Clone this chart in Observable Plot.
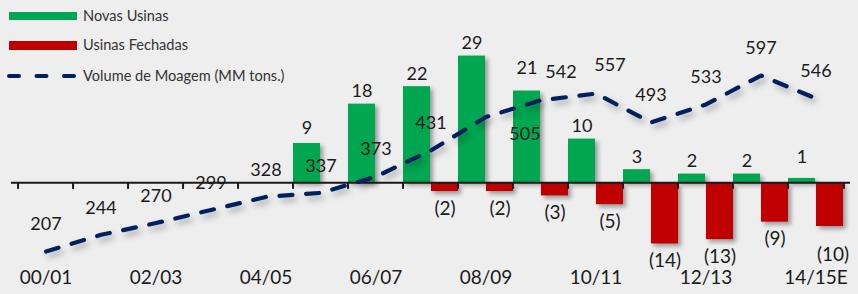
<!DOCTYPE html>
<html>
<head>
<meta charset="utf-8">
<script src="https://cdn.jsdelivr.net/npm/d3@7"></script>
<script src="https://cdn.jsdelivr.net/npm/@observablehq/plot@0.6"></script>
<style>
  html, body { margin: 0; padding: 0; background: #eeeeee; }
  #wrap { position: relative; width: 858px; height: 294px; background: #eeeeee; font-family: Lato, "Open Sans", sans-serif; overflow: hidden; }
  #legend { position: absolute; left: 0; top: 0; width: 320px; height: 90px; }
  #legend .txt { position: absolute; left: 83px; font-size: 14.6px; color: #333; line-height: 1; transform: translateY(-50%); white-space: nowrap; }
  #legend .sw { position: absolute; left: 9px; width: 68px; }
</style>
</head>
<body>
<div id="wrap">
  <div id="chart"></div>
  <div id="legend"></div>
</div>
<script>
// ---- data ----
const seasons = ["00/01","01/02","02/03","03/04","04/05","05/06","06/07","07/08","08/09","09/10","10/11","11/12","12/13","13/14","14/15E"];
const novasUsinas    = [null, null, null, null, null, 9, 18, 22, 29, 21, 10, 3, 2, 2, 1];
const usinasFechadas = [null, null, null, null, null, null, null, 2, 2, 3, 5, 14, 13, 9, 10];
const volumeMoagem   = [207, 244, 270, 299, 328, 337, 373, 431, 505, 542, 557, 493, 533, 597, 546];
const tickLabels = ["00/01","02/03","04/05","06/07","08/09","10/11","12/13","14/15E"];
const seriesNames = ["Novas Usinas", "Usinas Fechadas", "Volume de Moagem (MM tons.)"];

// ---- styling ----
const GREEN = "#00A650", RED = "#C00000", NAVY = "#002060", INK = "#1b1b1b";
const W = 858, H = 294, ML = 11, MR = 8, MB = 24;
const bw = (W - ML - MR) / seasons.length;

const rows = seasons.map((s, i) => ({
  season: s, novas: novasUsinas[i], fechadas: usinasFechadas[i], volume: volumeMoagem[i]
}));

// secondary axis for the volume line, expressed in the bar axis units
const vol2u = d3.scaleLinear().domain([207, 597]).range([-15.72, 24.55]);

// label nudges (pixels)
const greenNudge = {"05/06": -15, "09/10": -22.5, "14/15E": -21};
const redNudge = {"14/15E": 28};
const volNudge = {"08/09": [39, 17], "09/10": [20, -28], "10/11": [14, -28]};

const green = rows.filter(d => d.novas != null);
const red = rows.filter(d => d.fechadas != null);

const fontFam = "Lato, 'Open Sans', sans-serif";

const chart = Plot.plot({
  width: W, height: H,
  marginLeft: ML, marginRight: MR, marginTop: 0, marginBottom: MB,
  style: { background: "transparent", fontFamily: fontFam, color: INK, overflow: "visible" },
  x: { type: "band", domain: seasons, paddingInner: 0, paddingOuter: 0, axis: null },
  y: { domain: [-(H - MB - 182.3) / 4.37, 182.3 / 4.37], axis: null },
  marks: [
    Plot.barY(green, { x: "season", y: "novas", fill: GREEN, insetRight: bw / 2, insetLeft: 0 }),
    Plot.barY(red, { x: "season", y: d => -d.fechadas, fill: RED, insetLeft: bw / 2, insetRight: 0 }),
    Plot.ruleY([0], { stroke: "#1a1a1a", strokeWidth: 2 }),
    Plot.ruleX(seasons, { x: d => d, dx: -bw / 2, y1: 0, y2: -1.5, stroke: "#1a1a1a", strokeWidth: 2 }),
    Plot.ruleX([seasons[seasons.length - 1]], { x: d => d, dx: bw / 2, y1: 0, y2: -1.5, stroke: "#1a1a1a", strokeWidth: 2 }),
    Plot.line(rows, { x: "season", y: d => vol2u(d.volume), stroke: NAVY, strokeWidth: 4.2, strokeDasharray: "13 13.7", strokeLinecap: "round", strokeLinejoin: "round" }),
    // volume labels
    Plot.text(rows.filter(d => !volNudge[d.season]), { x: "season", y: d => vol2u(d.volume), text: d => String(d.volume), dy: -27, fontSize: 18, fill: INK }),
    ...rows.filter(d => volNudge[d.season]).map(d =>
      Plot.text([d], { x: "season", y: v => vol2u(v.volume), text: v => String(v.volume), dx: volNudge[d.season][0], dy: volNudge[d.season][1], fontSize: 18, fill: INK })),
    // green labels
    ...green.map(d => Plot.text([d], { x: "season", y: "novas", text: v => String(v.novas), dx: -bw / 4, dy: greenNudge[d.season] ?? -12.5, fontSize: 18, fill: INK })),
    // red labels
    ...red.map(d => Plot.text([d], { x: "season", y: v => -v.fechadas, text: v => `(${v.fechadas})`, dx: bw / 4 + (d.season === "14/15E" ? 3 : 0), dy: redNudge[d.season] ?? 17, fontSize: 19, fill: INK })),
    // x tick labels
    Plot.text(tickLabels, { x: d => d, frameAnchor: "bottom", dy: 13, fontSize: 19, fill: INK })
  ]
});
document.getElementById("chart").appendChild(chart);

// shadows like the original
d3.select(chart).selectAll('g[aria-label="bar"]').style("filter", "drop-shadow(3px 3px 2px rgba(0,0,0,0.35))");
d3.select(chart).selectAll('g[aria-label="line"]').style("filter", "drop-shadow(3px 4px 3px rgba(0,0,0,0.3))");

// legend
const legend = document.getElementById("legend");
legend.innerHTML = `
  <div class="sw" style="top:12px;height:8px;background:${GREEN}"></div>
  <div class="txt" style="top:16px">${seriesNames[0]}</div>
  <div class="sw" style="top:41px;height:9px;background:${RED}"></div>
  <div class="txt" style="top:45px">${seriesNames[1]}</div>
  <svg style="position:absolute;left:0;top:66px" width="80" height="20">
    <line x1="9" x2="77" y1="10" y2="10" stroke="${NAVY}" stroke-width="4" stroke-dasharray="10 17.5" stroke-linecap="round"/>
  </svg>
  <div class="txt" style="top:76px">${seriesNames[2]}</div>`;
</script>
</body>
</html>
